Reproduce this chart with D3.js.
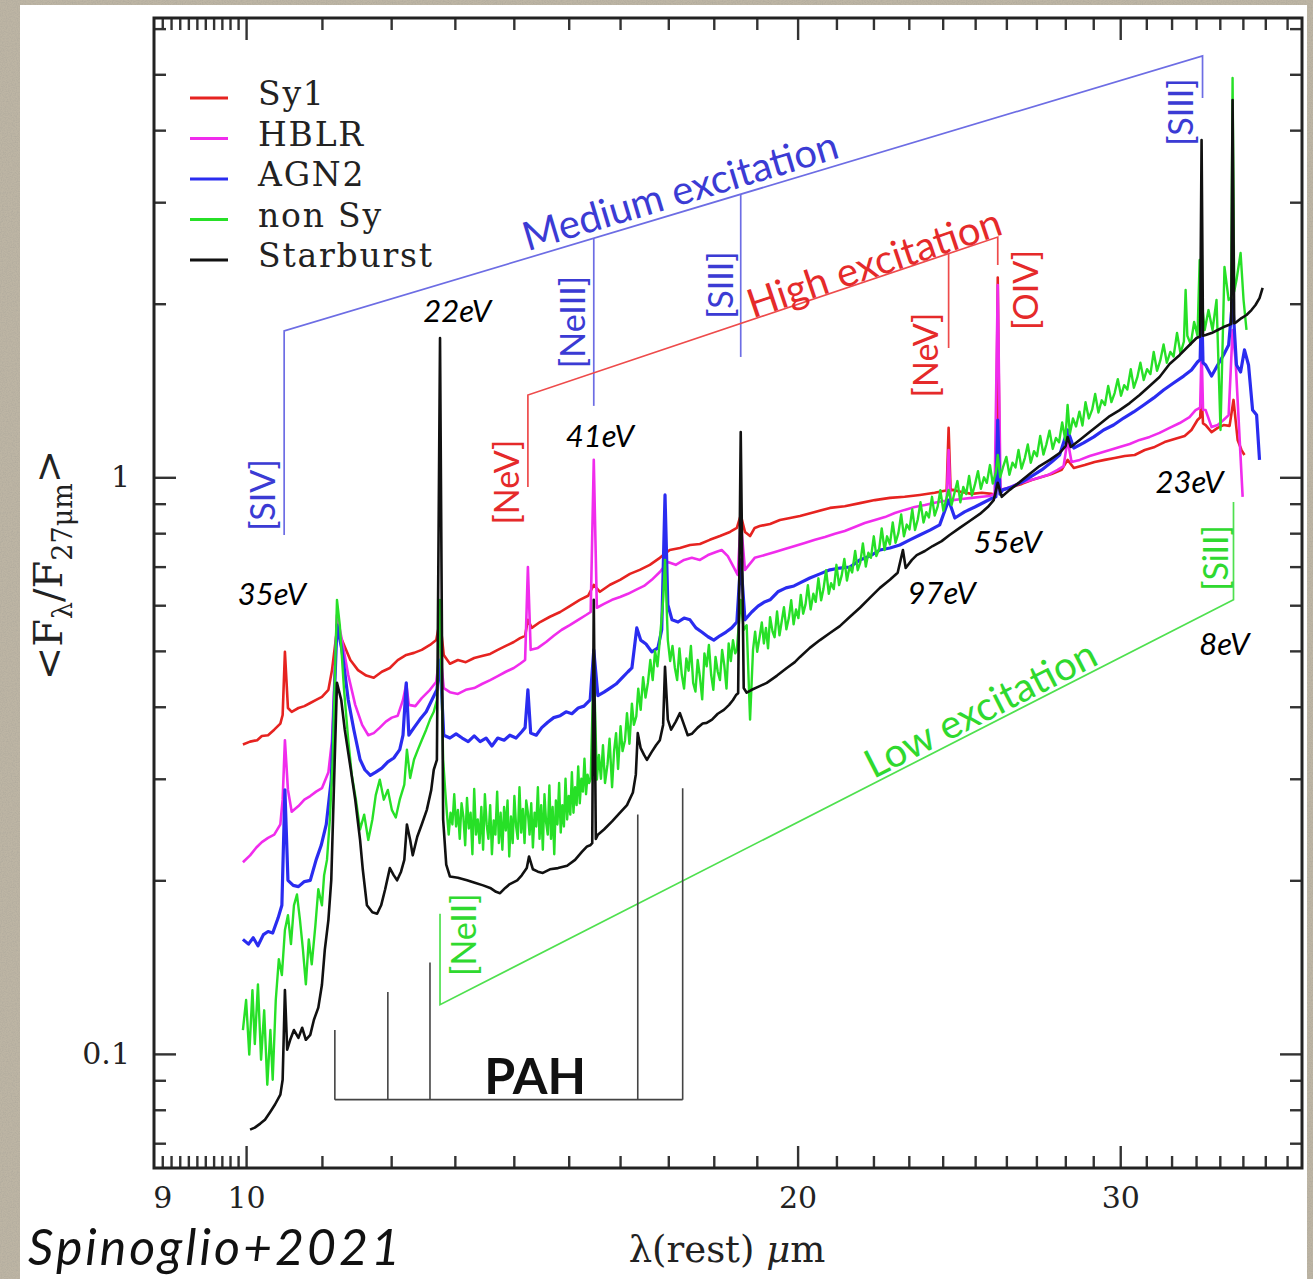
<!DOCTYPE html>
<html>
<head>
<meta charset="utf-8">
<script src="https://cdn.jsdelivr.net/npm/d3@7"></script>
<style>
  body { margin: 0; background: #fff; }
</style>
</head>
<body>
<svg id="fig" width="1313" height="1279"></svg>
<script>
// average spectra: [wavelength (um), <F_lambda / F_27um>]
var sy1 = [[9.96,0.344],[10.05,0.348],[10.14,0.350],[10.20,0.356],[10.28,0.357],[10.36,0.365],[10.44,0.374],[10.47,0.387],[10.50,0.498],[10.54,0.398],[10.59,0.392],[10.68,0.398],[10.76,0.401],[10.84,0.406],[10.92,0.411],[11.00,0.416],[11.09,0.428],[11.14,0.463],[11.21,0.544],[11.28,0.522],[11.40,0.482],[11.51,0.463],[11.63,0.453],[11.74,0.449],[11.86,0.460],[11.98,0.467],[12.10,0.482],[12.23,0.492],[12.35,0.496],[12.47,0.502],[12.60,0.512],[12.70,0.522],[12.76,0.566],[12.82,0.492],[12.92,0.475],[13.05,0.482],[13.18,0.478],[13.32,0.486],[13.45,0.490],[13.59,0.494],[13.72,0.502],[13.86,0.510],[14.00,0.518],[14.11,0.526],[14.20,0.531],[14.25,0.566],[14.32,0.548],[14.47,0.561],[14.65,0.573],[14.84,0.584],[15.02,0.598],[15.21,0.613],[15.37,0.623],[15.48,0.651],[15.60,0.633],[15.80,0.651],[16.00,0.664],[16.20,0.680],[16.40,0.691],[16.61,0.705],[16.82,0.725],[17.03,0.748],[17.25,0.754],[17.47,0.763],[17.69,0.766],[17.91,0.779],[18.14,0.791],[18.37,0.804],[18.53,0.817],[18.62,0.860],[18.72,0.804],[18.84,0.791],[18.95,0.817],[19.07,0.823],[19.32,0.830],[19.56,0.843],[19.81,0.850],[20.06,0.857],[20.44,0.871],[20.83,0.885],[21.22,0.891],[21.63,0.902],[22.04,0.913],[22.46,0.921],[22.88,0.925],[23.32,0.932],[23.76,0.940],[24.06,0.948],[24.12,0.949],[24.18,1.218],[24.24,0.950],[24.31,0.951],[24.58,0.943],[24.89,0.936],[25.21,0.940],[25.53,0.936],[25.66,0.935],[25.72,2.22],[25.79,0.945],[25.91,0.951],[26.18,0.962],[26.51,0.974],[26.84,0.989],[27.18,1.001],[27.52,1.013],[27.87,1.030],[28.08,1.072],[28.30,1.038],[28.69,1.050],[29.05,1.063],[29.42,1.072],[29.79,1.080],[30.17,1.089],[30.55,1.093],[30.94,1.115],[31.33,1.129],[31.72,1.151],[32.12,1.165],[32.53,1.179],[32.81,1.208],[33.06,1.257],[33.17,1.27],[33.23,1.389],[33.29,1.24],[33.40,1.232],[33.65,1.198],[33.91,1.218],[34.16,1.232],[34.42,1.228],[34.59,1.362],[34.77,1.161],[34.94,1.115],[35.07,1.093]];

var hblr = [[9.96,0.215],[10.05,0.221],[10.13,0.228],[10.20,0.233],[10.28,0.237],[10.36,0.240],[10.44,0.250],[10.47,0.276],[10.50,0.350],[10.54,0.287],[10.59,0.263],[10.68,0.269],[10.76,0.276],[10.84,0.280],[10.92,0.285],[11.00,0.289],[11.09,0.308],[11.14,0.350],[11.21,0.577],[11.28,0.522],[11.37,0.454],[11.47,0.403],[11.57,0.372],[11.66,0.357],[11.74,0.360],[11.83,0.368],[11.92,0.377],[12.01,0.383],[12.10,0.386],[12.18,0.411],[12.23,0.438],[12.27,0.403],[12.37,0.401],[12.47,0.414],[12.60,0.428],[12.70,0.442],[12.76,0.502],[12.82,0.431],[12.92,0.424],[13.05,0.421],[13.18,0.428],[13.32,0.431],[13.45,0.438],[13.59,0.445],[13.72,0.452],[13.86,0.460],[14.00,0.467],[14.11,0.475],[14.20,0.482],[14.25,0.699],[14.30,0.502],[14.43,0.506],[14.58,0.518],[14.72,0.531],[14.87,0.544],[15.02,0.554],[15.18,0.566],[15.33,0.577],[15.42,0.584],[15.48,1.072],[15.54,0.594],[15.68,0.603],[15.84,0.613],[16.00,0.620],[16.16,0.628],[16.32,0.638],[16.49,0.648],[16.65,0.664],[16.82,0.685],[16.99,0.713],[17.16,0.705],[17.34,0.719],[17.51,0.725],[17.69,0.719],[17.87,0.733],[18.05,0.742],[18.18,0.748],[18.32,0.730],[18.44,0.702],[18.55,0.677],[18.62,0.843],[18.72,0.691],[18.95,0.725],[19.19,0.733],[19.44,0.742],[19.68,0.751],[19.93,0.760],[20.18,0.769],[20.44,0.779],[20.70,0.788],[20.96,0.798],[21.22,0.807],[21.49,0.820],[21.76,0.833],[22.04,0.843],[22.32,0.853],[22.60,0.867],[22.88,0.878],[23.17,0.888],[23.47,0.895],[23.76,0.903],[24.03,0.910],[24.12,0.912],[24.18,1.115],[24.24,0.912],[24.31,0.913],[24.58,0.917],[24.89,0.921],[25.21,0.925],[25.46,0.928],[25.62,0.936],[25.72,2.155],[25.81,0.951],[26.04,0.958],[26.37,0.974],[26.71,0.985],[27.05,0.997],[27.39,1.009],[27.73,1.030],[27.94,1.046],[28.08,1.161],[28.22,1.063],[28.51,1.072],[28.87,1.089],[29.24,1.102],[29.61,1.115],[29.98,1.129],[30.36,1.142],[30.74,1.161],[31.13,1.175],[31.52,1.194],[31.92,1.218],[32.33,1.242],[32.73,1.272],[32.98,1.308],[33.17,1.32],[33.23,1.683],[33.29,1.31],[33.40,1.308],[33.65,1.222],[33.91,1.232],[34.16,1.257],[34.38,1.282],[34.55,1.801],[34.68,1.597],[34.86,1.161],[34.99,0.925]];

var agn2 = [[9.96,0.158],[10.03,0.155],[10.09,0.159],[10.15,0.154],[10.22,0.161],[10.28,0.163],[10.34,0.162],[10.41,0.172],[10.46,0.181],[10.50,0.287],[10.54,0.200],[10.61,0.196],[10.68,0.195],[10.76,0.199],[10.84,0.200],[10.92,0.217],[10.99,0.230],[11.06,0.250],[11.13,0.299],[11.21,0.554],[11.28,0.502],[11.37,0.411],[11.45,0.365],[11.54,0.324],[11.61,0.311],[11.69,0.304],[11.77,0.308],[11.86,0.313],[11.95,0.321],[12.04,0.326],[12.13,0.337],[12.18,0.357],[12.23,0.440],[12.27,0.357],[12.35,0.368],[12.44,0.380],[12.54,0.392],[12.63,0.411],[12.71,0.428],[12.76,0.482],[12.82,0.357],[12.92,0.353],[13.02,0.359],[13.12,0.353],[13.22,0.348],[13.32,0.356],[13.42,0.348],[13.52,0.353],[13.62,0.342],[13.72,0.353],[13.83,0.350],[13.93,0.357],[14.04,0.353],[14.14,0.362],[14.20,0.368],[14.25,0.428],[14.30,0.360],[14.40,0.357],[14.50,0.368],[14.61,0.376],[14.72,0.383],[14.84,0.386],[14.95,0.392],[15.06,0.389],[15.18,0.398],[15.29,0.401],[15.41,0.411],[15.48,0.502],[15.56,0.418],[15.68,0.424],[15.80,0.431],[15.92,0.438],[16.04,0.449],[16.16,0.460],[16.24,0.467],[16.34,0.548],[16.42,0.522],[16.53,0.514],[16.65,0.498],[16.78,0.506],[16.86,0.544],[16.93,0.932],[16.99,0.601],[17.08,0.566],[17.21,0.561],[17.34,0.570],[17.47,0.566],[17.60,0.548],[17.73,0.539],[17.87,0.529],[18.00,0.522],[18.14,0.531],[18.28,0.539],[18.41,0.548],[18.53,0.561],[18.62,0.719],[18.72,0.566],[18.88,0.584],[19.03,0.598],[19.17,0.607],[19.32,0.613],[19.51,0.633],[19.71,0.643],[19.91,0.648],[20.06,0.656],[20.31,0.669],[20.57,0.680],[20.83,0.691],[21.09,0.696],[21.36,0.699],[21.63,0.719],[21.90,0.730],[22.18,0.748],[22.46,0.754],[22.74,0.763],[23.03,0.779],[23.32,0.794],[23.62,0.810],[23.91,0.827],[24.18,0.913],[24.37,0.850],[24.67,0.871],[24.99,0.888],[25.30,0.906],[25.56,0.921],[25.66,0.925],[25.72,1.257],[25.79,0.935],[25.88,0.951],[26.18,0.962],[26.51,0.981],[26.84,1.005],[27.18,1.030],[27.52,1.063],[27.80,1.093],[28.08,1.208],[28.30,1.124],[28.65,1.147],[29.02,1.175],[29.38,1.208],[29.75,1.232],[30.13,1.267],[30.51,1.298],[30.90,1.335],[31.29,1.373],[31.68,1.417],[32.08,1.457],[32.49,1.498],[32.81,1.535],[33.06,1.585],[33.17,1.60],[33.23,2.030],[33.29,1.58],[33.40,1.566],[33.65,1.498],[33.91,1.566],[34.16,1.630],[34.38,1.696],[34.55,2.030],[34.72,1.566],[34.90,1.523],[35.07,1.663],[35.25,1.566],[35.43,1.308],[35.61,1.282],[35.74,1.072]];

var nonSy = [[9.96,0.110],[10.00,0.124],[10.04,0.0997],[10.08,0.129],[10.11,0.104],[10.15,0.132],[10.19,0.0977],[10.23,0.119],[10.27,0.0884],[10.31,0.110],[10.34,0.0902],[10.38,0.124],[10.42,0.146],[10.46,0.137],[10.50,0.164],[10.54,0.174],[10.58,0.155],[10.62,0.181],[10.66,0.189],[10.70,0.171],[10.74,0.152],[10.78,0.132],[10.82,0.158],[10.86,0.143],[10.91,0.167],[10.95,0.193],[11.00,0.181],[11.03,0.204],[11.07,0.217],[11.11,0.255],[11.15,0.324],[11.21,0.613],[11.25,0.554],[11.31,0.428],[11.37,0.350],[11.42,0.305],[11.48,0.276],[11.54,0.245],[11.60,0.260],[11.66,0.235],[11.72,0.255],[11.77,0.281],[11.83,0.299],[11.89,0.276],[11.95,0.287],[12.01,0.265],[12.07,0.257],[12.13,0.276],[12.20,0.293],[12.24,0.337],[12.29,0.301],[12.35,0.324],[12.41,0.337],[12.47,0.350],[12.54,0.365],[12.60,0.380],[12.66,0.392],[12.71,0.411],[12.76,0.613],
  [12.81,0.324],[12.84,0.290],[12.87,0.262],[12.90,0.240],[12.93,0.262],[12.96,0.250],[12.99,0.282],[13.02,0.248],[13.05,0.265],[13.08,0.236],[13.11,0.272],[13.14,0.258],[13.17,0.230],[13.20,0.278],[13.23,0.246],[13.26,0.262],[13.29,0.222],[13.32,0.288],[13.35,0.240],[13.38,0.255],[13.41,0.232],[13.44,0.268],[13.47,0.226],[13.50,0.282],[13.53,0.250],[13.56,0.236],[13.59,0.270],[13.62,0.222],[13.65,0.254],[13.68,0.240],[13.71,0.285],[13.74,0.232],[13.77,0.262],[13.80,0.226],[13.83,0.268],[13.86,0.244],[13.89,0.275],[13.92,0.220],[13.95,0.258],[13.98,0.232],[14.01,0.280],[14.04,0.248],[14.07,0.236],[14.10,0.290],[14.13,0.242],[14.16,0.266],[14.19,0.232],[14.22,0.275],[14.25,0.262],[14.28,0.240],[14.31,0.272],[14.34,0.228],[14.37,0.262],[14.40,0.248],[14.43,0.290],[14.46,0.236],[14.49,0.270],[14.52,0.226],[14.55,0.282],[14.58,0.252],[14.61,0.240],[14.64,0.292],[14.67,0.236],[14.70,0.268],[14.73,0.222],[14.76,0.275],[14.79,0.250],[14.82,0.295],[14.85,0.242],[14.88,0.270],[14.91,0.248],[14.94,0.300],[14.97,0.255],[15.00,0.280],[15.03,0.260],[15.06,0.308],[15.09,0.262],[15.12,0.290],[15.15,0.270],[15.18,0.315],[15.21,0.272],[15.24,0.300],[15.27,0.285],[15.30,0.325],[15.33,0.282],[15.36,0.305],[15.39,0.295],[15.42,0.300],[15.48,0.482],
  [15.54,0.299],[15.58,0.330],[15.62,0.300],[15.66,0.343],[15.70,0.295],[15.75,0.318],[15.79,0.352],[15.84,0.290],[15.88,0.335],[15.92,0.360],[15.96,0.312],[16.01,0.370],[16.05,0.335],[16.10,0.350],[16.14,0.390],[16.19,0.345],[16.24,0.405],[16.28,0.372],[16.33,0.385],[16.37,0.430],[16.42,0.395],[16.47,0.450],[16.52,0.415],[16.57,0.440],[16.62,0.482],[16.67,0.445],[16.72,0.500],[16.77,0.470],[16.82,0.522],[16.89,0.613],[16.93,0.719],
  [16.99,0.522],[17.04,0.480],[17.09,0.510],[17.14,0.468],[17.19,0.445],[17.24,0.505],[17.29,0.455],[17.34,0.430],[17.39,0.485],[17.44,0.462],[17.49,0.510],[17.54,0.440],[17.59,0.425],[17.64,0.482],[17.69,0.450],[17.74,0.412],[17.79,0.495],[17.84,0.470],[17.89,0.512],[17.94,0.455],[17.99,0.428],[18.04,0.488],[18.09,0.460],[18.14,0.445],[18.19,0.502],[18.24,0.472],[18.29,0.430],[18.34,0.515],[18.39,0.480],[18.44,0.522],[18.49,0.495],[18.53,0.502],[18.62,0.613],[18.69,0.544],[18.76,0.554],[18.84,0.380],
  [18.91,0.502],[18.96,0.540],[19.01,0.498],[19.07,0.530],[19.12,0.560],[19.17,0.515],[19.22,0.548],[19.27,0.505],[19.32,0.572],[19.38,0.540],[19.43,0.528],[19.49,0.585],[19.55,0.532],[19.60,0.560],[19.66,0.595],[19.72,0.545],[19.78,0.570],[19.84,0.612],[19.90,0.556],[19.96,0.590],[20.02,0.570],[20.08,0.625],[20.14,0.580],[20.20,0.602],[20.26,0.650],[20.33,0.590],[20.40,0.628],[20.46,0.608],[20.53,0.668],[20.60,0.612],[20.66,0.640],[20.73,0.690],[20.80,0.628],[20.86,0.655],[20.93,0.640],[21.00,0.705],[21.07,0.650],[21.14,0.676],[21.21,0.722],[21.28,0.662],[21.35,0.700],[21.42,0.684],[21.50,0.745],[21.57,0.690],[21.64,0.712],[21.71,0.768],[21.79,0.700],[21.86,0.740],[21.93,0.725],[22.01,0.790],[22.08,0.730],[22.16,0.752],[22.23,0.815],[22.31,0.748],[22.38,0.790],[22.46,0.765],[22.54,0.835],[22.62,0.770],[22.70,0.800],[22.78,0.862],[22.86,0.790],[22.94,0.828],[23.02,0.812],[23.10,0.880],[23.18,0.810],[23.26,0.845],[23.34,0.905],[23.43,0.835],[23.51,0.870],[23.59,0.852],[23.68,0.925],[23.76,0.858],[23.85,0.890],[23.93,0.950],[24.02,0.875],[24.10,0.912],[24.18,0.951],[24.27,0.895],[24.36,0.940],[24.45,0.985],[24.54,0.905],[24.63,0.962],[24.72,0.935],[24.81,1.005],[24.90,0.930],[25.00,0.975],[25.09,1.025],[25.18,0.955],[25.28,1.000],[25.37,0.978],[25.47,1.050],[25.56,0.975],[25.66,1.020],[25.72,1.093],[25.80,1.000],[25.90,1.045],[26.00,1.085],[26.10,1.010],[26.20,1.060],[26.30,1.040],[26.40,1.115],[26.50,1.035],[26.61,1.080],[26.71,1.140],[26.81,1.060],[26.92,1.110],[27.02,1.088],[27.13,1.180],[27.24,1.095],[27.34,1.140],[27.45,1.205],[27.56,1.120],[27.67,1.170],[27.78,1.150],[27.89,1.245],[28.00,1.160],[28.08,1.335],[28.16,1.190],[28.27,1.265],[28.38,1.225],[28.50,1.300],[28.61,1.230],[28.72,1.350],[28.84,1.265],[28.96,1.310],[29.07,1.395],[29.19,1.295],[29.31,1.360],[29.43,1.335],[29.55,1.440],[29.67,1.350],[29.79,1.400],[29.91,1.480],[30.03,1.385],[30.15,1.445],[30.27,1.420],[30.40,1.540],[30.52,1.430],[30.65,1.490],[30.77,1.580],[30.90,1.475],[31.03,1.540],[31.16,1.510],[31.29,1.650],[31.42,1.530],[31.55,1.595],[31.68,1.700],[31.81,1.580],[31.95,1.650],[32.08,1.620],[32.22,1.780],[32.36,1.640],[32.50,1.720],[32.57,2.113],[32.64,1.760],[32.78,1.700],[32.92,1.860],[33.06,1.760],[33.15,2.382],[33.23,2.030],[33.36,1.801],[33.52,1.950],[33.69,1.801],[33.86,2.030],[34.03,1.208],[34.20,2.316],[34.38,2.030],[34.49,2.05],[34.55,4.926],[34.62,2.1],[34.72,2.199],[34.90,2.449],[35.03,2.030],[35.16,1.801]];

var starburst = [[10.05,0.0739],[10.11,0.0745],[10.18,0.0757],[10.24,0.0769],[10.31,0.0794],[10.37,0.0817],[10.44,0.0850],[10.47,0.0902],[10.50,0.129],[10.53,0.1017],[10.57,0.1058],[10.62,0.110],[10.68,0.1066],[10.73,0.111],[10.78,0.1058],[10.84,0.1079],[10.89,0.1146],[10.95,0.1203],[11.00,0.1318],[11.04,0.1516],[11.09,0.1708],[11.13,0.2004],[11.17,0.2987],[11.21,0.440],[11.27,0.411],[11.32,0.365],[11.40,0.315],[11.47,0.276],[11.54,0.235],[11.58,0.2086],[11.64,0.181],[11.72,0.176],[11.79,0.175],[11.85,0.181],[11.91,0.193],[11.98,0.210],[12.04,0.204],[12.09,0.200],[12.15,0.207],[12.20,0.217],[12.24,0.250],[12.29,0.235],[12.33,0.221],[12.40,0.238],[12.47,0.250],[12.55,0.265],[12.62,0.287],[12.66,0.311],[12.71,0.3235],[12.76,1.744],[12.81,0.255],[12.86,0.213],[12.92,0.203],[13.05,0.202],[13.20,0.200],[13.33,0.198],[13.47,0.196],[13.59,0.194],[13.69,0.191],[13.76,0.190],[13.85,0.194],[13.93,0.197],[14.06,0.200],[14.14,0.204],[14.23,0.210],[14.27,0.220],[14.34,0.209],[14.43,0.207],[14.52,0.206],[14.65,0.209],[14.80,0.210],[14.97,0.212],[15.12,0.217],[15.25,0.224],[15.35,0.229],[15.41,0.230],[15.45,0.232],[15.48,0.613],[15.52,0.236],[15.56,0.240],[15.68,0.245],[15.84,0.253],[16.00,0.262],[16.14,0.270],[16.26,0.284],[16.32,0.305],[16.36,0.360],[16.42,0.339],[16.49,0.330],[16.55,0.3235],[16.65,0.334],[16.74,0.343],[16.82,0.350],[16.89,0.372],[16.93,0.469],[16.99,0.380],[17.06,0.365],[17.16,0.377],[17.25,0.390],[17.34,0.372],[17.42,0.357],[17.51,0.359],[17.64,0.368],[17.75,0.374],[17.84,0.375],[17.96,0.380],[18.09,0.389],[18.23,0.395],[18.35,0.403],[18.44,0.411],[18.51,0.419],[18.56,0.422],[18.62,1.198],[18.69,0.431],[18.76,0.423],[18.88,0.428],[19.03,0.433],[19.24,0.440],[19.49,0.453],[19.73,0.467],[19.93,0.478],[20.06,0.488],[20.31,0.506],[20.57,0.522],[20.83,0.537],[21.09,0.552],[21.36,0.573],[21.63,0.594],[21.90,0.618],[22.18,0.643],[22.46,0.664],[22.68,0.683],[22.83,0.748],[22.91,0.696],[23.09,0.719],[23.23,0.733],[23.47,0.745],[23.70,0.760],[23.97,0.775],[24.21,0.794],[24.52,0.817],[24.83,0.840],[25.15,0.864],[25.40,0.888],[25.59,0.913],[25.72,0.978],[25.85,0.925],[26.11,0.951],[26.44,0.981],[26.77,1.013],[27.11,1.046],[27.46,1.072],[27.80,1.102],[28.01,1.133],[28.08,1.175],[28.19,1.129],[28.51,1.161],[28.87,1.198],[29.24,1.237],[29.61,1.277],[29.98,1.308],[30.36,1.345],[30.74,1.389],[31.13,1.440],[31.52,1.493],[31.92,1.572],[32.33,1.630],[32.73,1.696],[33.02,1.744],[33.17,1.755],[33.23,3.846],[33.29,1.76],[33.40,1.765],[33.65,1.779],[33.91,1.801],[34.16,1.822],[34.38,1.837],[34.49,1.845],[34.55,4.512],[34.62,1.85],[34.72,1.859],[34.94,1.889],[35.16,1.912],[35.38,1.950],[35.56,1.990],[35.74,2.046],[35.88,2.130]];

var seriesNames = ["Sy1", "HBLR", "AGN2", "non Sy", "Starburst"];
var seriesColors = ["#e62320", "#f02cec", "#2a2cf0", "#27e027", "#111111"];
var seriesWidths = [2.6, 2.6, 3.2, 2.4, 2.6];

// excitation brackets, corners in [wavelength, flux]
var mediumBracket = [[10.49,0.794],[10.49,1.794],[33.27,5.38],[33.27,4.55]];
var mediumDrops = [[15.48,1.33],[18.62,1.617]];
var highBracket = [[14.25,0.962],[14.25,1.389],[25.72,2.61],[25.72,2.334]];
var highDrops = [[24.18,1.676]];
var lowBracket = [[12.76,0.175],[12.76,0.1217],[34.59,0.613],[34.59,0.906]];
var pahBars = [[11.18,0.110],[11.95,0.128],[12.60,0.144],[16.36,0.260],[17.31,0.289]];
var pahFloor = 0.0833;

var ionLabels = [
  ["[SIV]", 10.20, 0.932, "medium"],
  ["[NeIII]", 15.06, 1.859, "medium"],
  ["[SIII]", 18.14, 2.155, "medium"],
  ["[SIII]", 32.33, 4.30, "medium"],
  ["[NeV]", 13.85, 0.981, "high"],
  ["[NeV]", 23.47, 1.630, "high"],
  ["[OIV]", 26.61, 2.113, "high"],
  ["[NeII]", 13.12, 0.161, "low"],
  ["[SiII]", 33.78, 0.725, "low"]
];
var energyLabels = [["35eV",10.33,0.630],["22eV",13.04,1.950],["41eV",15.60,1.184],["97eV",23.97,0.633],["55eV",26.04,0.775],["23eV",32.73,0.985],["8eV",34.20,0.516]];
var bandTitles = [["Medium excitation",17.25,3.15,"medium"],["High excitation",22.01,2.363,"high"],["Low excitation",25.15,0.398,"low"]];

var xTickLabels = [9, 10, 20, 30];
var yTickLabels = [0.1, 1];

var groupText = {medium: "#3b3bd4", high: "#e52a2a", low: "#2fd92f"};
var groupLine = {medium: "#6d6de4", high: "#ee4b4b", low: "#4fe04f"};

var plot = {left: 154, right: 1302, top: 18, bottom: 1168};
var svg = d3.select("#fig");

var x = d3.scaleLog().domain([8.907, 37.7]).range([plot.left, plot.right]);
var y = d3.scaleLog().domain([0.0634, 6.26]).range([plot.bottom, plot.top]);

// page background: textured beige border around a white card
var defs = svg.append("defs");
var grain = defs.append("filter").attr("id", "grain").attr("x", 0).attr("y", 0).attr("width", "100%").attr("height", "100%");
grain.append("feTurbulence").attr("type", "fractalNoise").attr("baseFrequency", 0.8).attr("numOctaves", 2).attr("seed", 5);
grain.append("feColorMatrix").attr("type", "matrix")
    .attr("values", "0 0 0 0 0.42  0 0 0 0 0.39  0 0 0 0 0.33  1.4 0 0 0 -0.5");
defs.append("clipPath").attr("id", "plotClip").append("rect")
    .attr("x", plot.left).attr("y", plot.top)
    .attr("width", plot.right - plot.left).attr("height", plot.bottom - plot.top);

svg.append("rect").attr("width", 1313).attr("height", 1279).attr("fill", "#bdb5a4");
svg.append("rect").attr("width", 1313).attr("height", 1279).attr("filter", "url(#grain)");
svg.append("rect").attr("x", 20).attr("y", 5).attr("width", 1287).attr("height", 1274).attr("fill", "#fff");

// spectra (red first, black on top)
var line = d3.line().x(function(d) { return x(d[0]); }).y(function(d) { return y(d[1]); });
svg.append("g").attr("clip-path", "url(#plotClip)")
    .selectAll("path")
    .data([sy1, hblr, agn2, nonSy, starburst])
    .enter().append("path")
    .attr("d", line)
    .attr("fill", "none")
    .attr("stroke", function(d, i) { return seriesColors[i]; })
    .attr("stroke-width", function(d, i) { return seriesWidths[i]; })
    .attr("stroke-linejoin", "round");

// brackets
function yOnSegment(a, b, wl) {
    var x1 = x(a[0]), y1 = y(a[1]), x2 = x(b[0]), y2 = y(b[1]);
    return y1 + (y2 - y1) * (x(wl) - x1) / (x2 - x1);
}
function drawBracket(pts, drops, group) {
    svg.append("path").attr("d", line(pts))
        .attr("fill", "none").attr("stroke", groupLine[group]).attr("stroke-width", 1.7);
    drops.forEach(function(d) {
        svg.append("line")
            .attr("x1", x(d[0])).attr("x2", x(d[0]))
            .attr("y1", yOnSegment(pts[1], pts[2], d[0])).attr("y2", y(d[1]))
            .attr("stroke", groupLine[group]).attr("stroke-width", 1.7);
    });
}
drawBracket(mediumBracket, mediumDrops, "medium");
drawBracket(highBracket, highDrops, "high");
drawBracket(lowBracket, [], "low");

var brackets = {medium: mediumBracket, high: highBracket, low: lowBracket};
bandTitles.forEach(function(t) {
    var b = brackets[t[3]];
    var ang = Math.atan2(y(b[2][1]) - y(b[1][1]), x(b[2][0]) - x(b[1][0])) * 180 / Math.PI;
    svg.append("text")
        .attr("transform", "translate(" + x(t[1]) + "," + y(t[2]) + ") rotate(" + ang + ")")
        .attr("text-anchor", "middle").attr("dominant-baseline", "central")
        .attr("font-family", "Lato, 'Open Sans', sans-serif").attr("font-size", 40)
        .attr("fill", groupText[t[3]])
        .text(t[0]);
});

// PAH comb
pahBars.forEach(function(d) {
    svg.append("line").attr("x1", x(d[0])).attr("x2", x(d[0]))
        .attr("y1", y(d[1])).attr("y2", y(pahFloor))
        .attr("stroke", "#444").attr("stroke-width", 1.6);
});
svg.append("line")
    .attr("x1", x(pahBars[0][0])).attr("x2", x(pahBars[pahBars.length - 1][0]))
    .attr("y1", y(pahFloor)).attr("y2", y(pahFloor))
    .attr("stroke", "#444").attr("stroke-width", 1.6);
svg.append("text")
    .attr("x", x(14.38)).attr("y", y(0.092))
    .attr("text-anchor", "middle").attr("dominant-baseline", "central")
    .attr("font-family", "Lato, sans-serif").attr("font-weight", 700).attr("font-size", 50)
    .attr("fill", "#111").text("PAH");

// line identifications
svg.selectAll("text.ion").data(ionLabels).enter().append("text")
    .attr("class", "ion")
    .attr("transform", function(d) { return "translate(" + x(d[1]) + "," + y(d[2]) + ") rotate(-90)"; })
    .attr("text-anchor", "middle").attr("dominant-baseline", "central")
    .attr("font-family", "Lato, 'Open Sans', sans-serif").attr("font-size", 34)
    .attr("fill", function(d) { return groupText[d[3]]; })
    .text(function(d) { return d[0]; });

svg.selectAll("text.ev").data(energyLabels).enter().append("text")
    .attr("class", "ev")
    .attr("x", function(d) { return x(d[1]); })
    .attr("y", function(d) { return y(d[2]); })
    .attr("text-anchor", "middle").attr("dominant-baseline", "central")
    .attr("font-family", "Lato, sans-serif").attr("font-style", "italic").attr("font-size", 31)
    .attr("fill", "#000")
    .text(function(d) { return d[0]; });

// axes: ticks on all four sides, pointing inward
var xMinor = d3.range(9, 10, 0.1).concat(d3.range(11, 20), d3.range(21, 30), d3.range(31, 38));
var xMajor = [10, 20, 30];
var yMinor = [0.07, 0.08, 0.09].concat(d3.range(0.2, 0.95, 0.1), d3.range(2, 7));
var yMajor = [0.1, 1];

function tickAxis(axisFn, scale, vals, size, tx, ty) {
    svg.append("g")
        .attr("transform", "translate(" + tx + "," + ty + ")")
        .attr("color", "#333")
        .call(axisFn(scale).tickValues(vals).tickSize(-size).tickFormat(""))
        .call(function(g) { g.select(".domain").remove(); })
        .selectAll("line").attr("stroke-width", 2.4);
}
[[xMinor, 12], [xMajor, 22]].forEach(function(t) {
    tickAxis(d3.axisBottom, x, t[0], t[1], 0, plot.bottom);
    tickAxis(d3.axisTop, x, t[0], t[1], 0, plot.top);
});
[[yMinor, 12], [yMajor, 22]].forEach(function(t) {
    tickAxis(d3.axisLeft, y, t[0], t[1], plot.left, 0);
    tickAxis(d3.axisRight, y, t[0], t[1], plot.right, 0);
});

svg.append("rect")
    .attr("x", plot.left).attr("y", plot.top)
    .attr("width", plot.right - plot.left).attr("height", plot.bottom - plot.top)
    .attr("fill", "none").attr("stroke", "#222").attr("stroke-width", 3);

var xl = svg.append("g")
    .attr("transform", "translate(0," + plot.bottom + ")")
    .call(d3.axisBottom(x).tickValues(xTickLabels).tickSize(0).tickPadding(19).tickFormat(d3.format("d")));
xl.select(".domain").remove();
xl.selectAll("text").attr("font-family", "'DejaVu Serif', serif").attr("font-size", 30).attr("fill", "#222");

var yl = svg.append("g")
    .attr("transform", "translate(" + plot.left + ",0)")
    .call(d3.axisLeft(y).tickValues(yTickLabels).tickSize(0).tickPadding(24).tickFormat(d3.format("~g")));
yl.select(".domain").remove();
yl.selectAll("text").attr("font-family", "'DejaVu Serif', serif").attr("font-size", 30).attr("fill", "#222");

// axis titles
var xt = svg.append("text")
    .attr("x", 727).attr("y", 1262)
    .attr("text-anchor", "middle")
    .attr("font-family", "'DejaVu Serif', serif").attr("font-size", 37).attr("fill", "#222");
xt.append("tspan").text("\u03bb(rest) ");
xt.append("tspan").attr("font-style", "italic").text("\u03bc");
xt.append("tspan").text("m");

var yt = svg.append("text")
    .attr("transform", "translate(62,565) rotate(-90)")
    .attr("text-anchor", "middle")
    .attr("font-family", "'DejaVu Serif', serif").attr("font-size", 40).attr("fill", "#222");
yt.append("tspan").text("<F");
yt.append("tspan").attr("font-size", 27).attr("dy", 10).text("\u03bb");
yt.append("tspan").attr("dy", -10).text("/F");
yt.append("tspan").attr("font-size", 27).attr("dy", 10).text("27\u03bcm");
yt.append("tspan").attr("dy", -10).text(">");

// legend
var legend = svg.append("g").attr("transform", "translate(190,98)");
seriesNames.forEach(function(name, i) {
    var row = legend.append("g").attr("transform", "translate(0," + (i * 40.5) + ")");
    row.append("line").attr("x1", 0).attr("x2", 38).attr("y1", 0).attr("y2", 0)
        .attr("stroke", seriesColors[i]).attr("stroke-width", 3);
    row.append("text").attr("x", 68).attr("y", 7)
        .attr("dominant-baseline", "alphabetic")
        .attr("font-family", "'DejaVu Serif', serif").attr("font-size", 33)
        .attr("letter-spacing", 1.8).attr("fill", "#222")
        .text(name);
});

// citation
svg.append("text")
    .attr("x", 28).attr("y", 1265)
    .attr("font-family", "Lato, sans-serif").attr("font-style", "italic").attr("font-size", 50)
    .attr("letter-spacing", 3)
    .attr("fill", "#111").text("Spinoglio+2021");
</script>
</body>
</html>
